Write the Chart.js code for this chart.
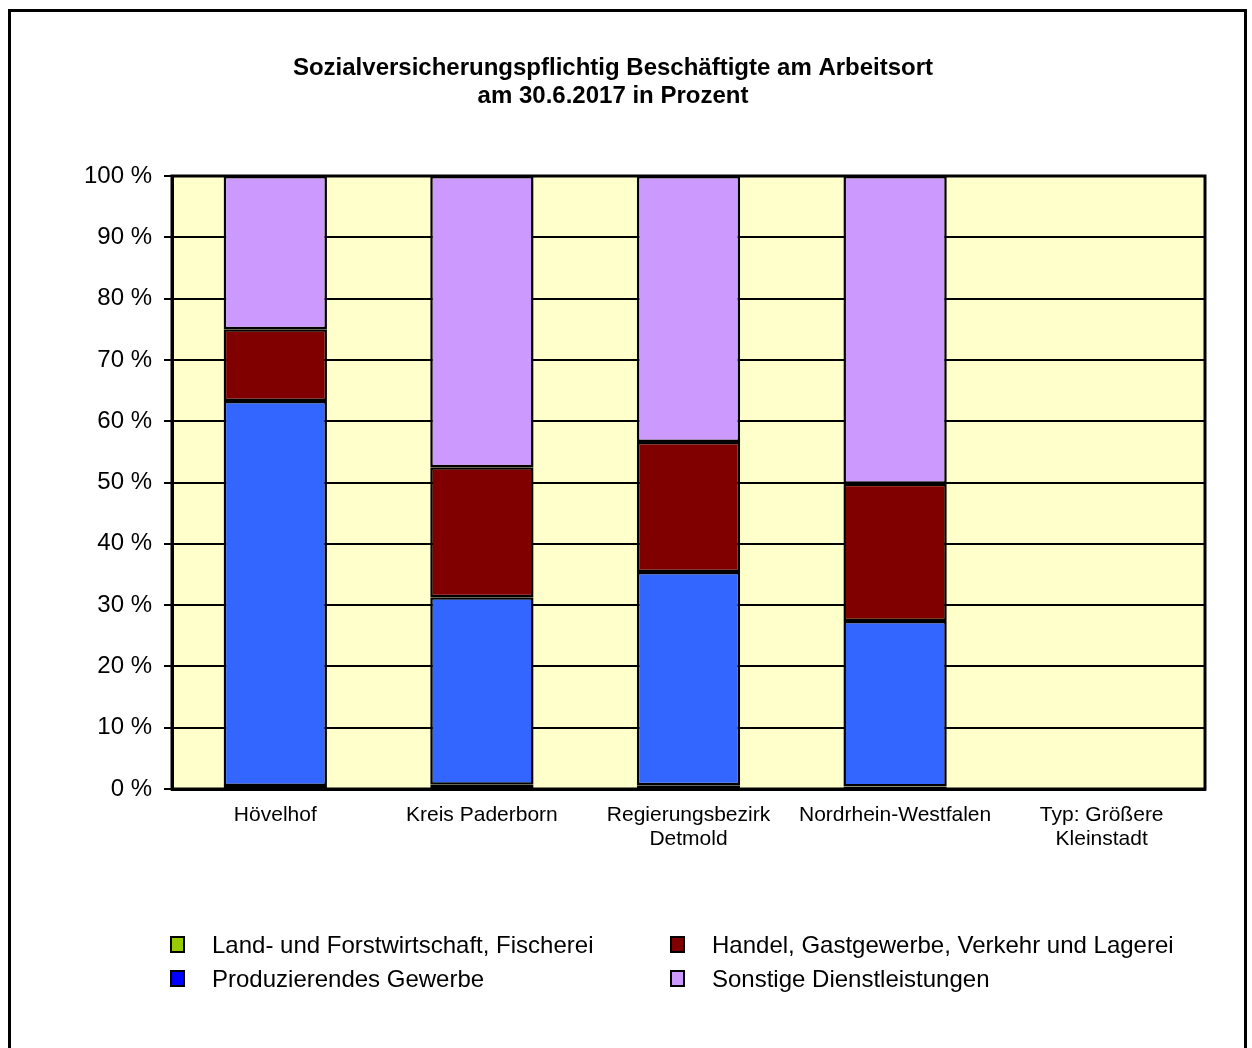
<!DOCTYPE html>
<html lang="de">
<head>
<meta charset="UTF-8">
<title>Sozialversicherungspflichtig Beschäftigte</title>
<script src="https://cdn.jsdelivr.net/npm/chart.js"></script>
<style>
    body { margin: 0; background: #fff; font-family: Arial, 'Liberation Sans', sans-serif; }
    #wrap { position: relative; width: 1252px; height: 1048px; overflow: hidden; }
    #frame {
        position: absolute; left: 8px; top: 9px; width: 1239px; height: 1060px;
        border: 3px solid #000; box-sizing: border-box;
    }
    canvas { position: absolute; left: 0; top: 0; }
    .legend-item {
        position: absolute; font-size: 24px; color: #000; line-height: 28px; white-space: nowrap;
    }
    .legend-item span.box {
        position: absolute; left: 0; top: 5px; width: 15px; height: 17px;
        border: 2px solid #000; box-sizing: border-box;
    }
    .legend-item span.txt { position: absolute; left: 42px; top: 0; }
</style>
</head>
<body>
<div id="wrap">
    <div id="frame"></div>
    <canvas id="chart" width="1252" height="1048"></canvas>
    <div id="legend"></div>
</div>

<script>
    const categories = ['Hövelhof', 'Kreis Paderborn', ['Regierungsbezirk', 'Detmold'], 'Nordrhein-Westfalen', ['Typ: Größere', 'Kleinstadt']];
    const landwirtschaft = [0.5, 0.7, 0.6, 0.4, null];
    const produzierend = [62.8, 30.6, 34.8, 27.0, null];
    const handel = [11.7, 21.2, 21.2, 22.4, null];
    const sonstige = [25.0, 47.5, 43.4, 50.2, null];
    const yTicks = [0, 10, 20, 30, 40, 50, 60, 70, 80, 90, 100];

    const series = [
        { label: 'Land- und Forstwirtschaft, Fischerei', data: landwirtschaft, color: '#99cc00', legendColor: '#99cc00' },
        { label: 'Produzierendes Gewerbe', data: produzierend, color: '#3366ff', legendColor: '#0000ff' },
        { label: 'Handel, Gastgewerbe, Verkehr und Lagerei', data: handel, color: '#800000', legendColor: '#800000' },
        { label: 'Sonstige Dienstleistungen', data: sonstige, color: '#cc99ff', legendColor: '#cc99ff' }
    ];

    // Hintergrund und Rahmen der Zeichenfläche
    const plotArea = {
        id: 'plotArea',
        beforeDraw(chart) {
            const { ctx, chartArea: a } = chart;
            ctx.save();
            ctx.fillStyle = '#ffffcc';
            ctx.fillRect(a.left, a.top, a.right - a.left, a.bottom - a.top);
            ctx.restore();
        },
        afterDatasetsDraw(chart) {
            const { ctx, chartArea: a } = chart;
            ctx.save();
            ctx.strokeStyle = '#000';
            ctx.lineWidth = 3;
            ctx.strokeRect(a.left, a.top, a.right - a.left, a.bottom - a.top);
            ctx.restore();
        }
    };

    new Chart(document.getElementById('chart'), {
        type: 'bar',
        data: {
            labels: categories,
            datasets: series.map(s => ({
                label: s.label,
                data: s.data,
                backgroundColor: s.color,
                borderColor: '#000',
                borderWidth: 2.5,
                borderSkipped: false,
                barPercentage: 0.5,
                categoryPercentage: 1.0
            }))
        },
        options: {
            responsive: false,
            animation: false,
            layout: { padding: { left: 21, right: 47, top: 0, bottom: 199 } },
            plugins: {
                legend: { display: false },
                tooltip: { enabled: false },
                title: {
                    display: true,
                    text: ['Sozialversicherungspflichtig Beschäftigte am Arbeitsort', 'am 30.6.2017 in Prozent'],
                    color: '#000',
                    font: { family: 'Arial', size: 24, weight: 'bold', lineHeight: 28 / 24 },
                    padding: { top: 54, bottom: 66 }
                }
            },
            scales: {
                x: {
                    stacked: true,
                    grid: { display: false, drawTicks: false },
                    border: { display: true, color: '#000', width: 3 },
                    ticks: {
                        color: '#000',
                        font: { family: 'Arial', size: 21, lineHeight: 24 / 21 },
                        padding: 14,
                        maxRotation: 0,
                        autoSkip: false
                    },
                    afterFit(scale) { scale.height = 60; }
                },
                y: {
                    stacked: true,
                    min: 0,
                    max: 100,
                    afterBuildTicks(scale) { scale.ticks = yTicks.map(v => ({ value: v })); },
                    grid: { color: '#000', lineWidth: 2, tickLength: 8, drawTicks: true },
                    border: { display: true, color: '#000', width: 3 },
                    ticks: {
                        color: '#000',
                        font: { family: 'Arial', size: 24 },
                        padding: 12,
                        callback: v => v + ' %'
                    },
                    afterFit(scale) { scale.width = 151; }
                }
            }
        },
        plugins: [plotArea]
    });

    // Legende in zwei Spalten
    const legend = document.getElementById('legend');
    series.forEach((s, i) => {
        const col = Math.floor(i / 2), row = i % 2;
        const item = document.createElement('div');
        item.className = 'legend-item';
        item.style.left = (170 + col * 500) + 'px';
        item.style.top = (931 + row * 34) + 'px';
        item.innerHTML = '<span class="box" style="background:' + s.legendColor + '"></span><span class="txt"></span>';
        item.querySelector('.txt').textContent = s.label;
        legend.appendChild(item);
    });
</script>
</body>
</html>
